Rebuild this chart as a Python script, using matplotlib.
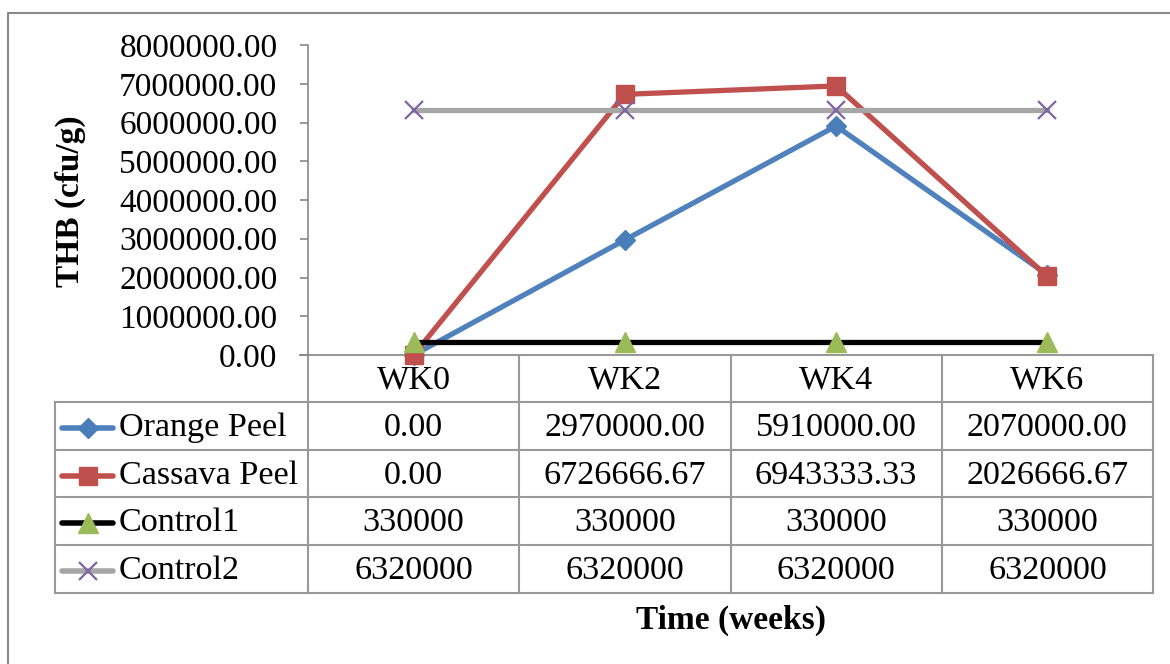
import matplotlib
matplotlib.use("Agg")
import matplotlib.pyplot as plt
from matplotlib.transforms import blended_transform_factory

plt.rcParams["font.family"] = ["Liberation Serif", "DejaVu Serif"]
plt.rcParams["font.size"] = 24.6

weeks = ["WK0", "WK2", "WK4", "WK6"]
orange_peel = [0.00, 2970000.00, 5910000.00, 2070000.00]
cassava_peel = [0.00, 6726666.67, 6943333.33, 2026666.67]
control1 = [330000, 330000, 330000, 330000]
control2 = [6320000, 6320000, 6320000, 6320000]

series = [
    ("Orange Peel", orange_peel, "{:.2f}", dict(color="#4F81BD", marker="D", ms=10, mfc="#4A7EBB", mec="#4A7EBB")),
    ("Cassava Peel", cassava_peel, "{:.2f}", dict(color="#C0504D", marker="s", ms=13, mfc="#C0504D", mec="#C0504D")),
    ("Control1", control1, "{:.0f}", dict(color="black", marker="^", ms=14, mfc="#9BBB59", mec="#9BBB59")),
    ("Control2", control2, "{:.0f}", dict(color="#A6A6A6", marker="x", ms=13, mec="#8064A2", mew=1.6)),
]

W, H = 1170, 664
fig = plt.figure(figsize=(W / 100, H / 100), dpi=100)

# pixel overlay used for the data table, titles and outer border
ov = fig.add_axes([0, 0, 1, 1], zorder=0)
ov.set_xlim(0, W)
ov.set_ylim(H, 0)
ov.axis("off")

x0, x1 = 308, 1153
ytop, ybot = 45, 355
ax = fig.add_axes([x0 / W, 1 - ybot / H, (x1 - x0) / W, (ybot - ytop) / H], zorder=2)
ax.patch.set_alpha(0)

xs = range(len(weeks))
for name, vals, fmt, st in series:
    ax.plot(xs, vals, lw=3.8, label=name, clip_on=False, **st)

ax.set_xlim(-0.5, len(weeks) - 0.5)
ax.set_ylim(0, 8000000)
ax.set_yticks(range(0, 8000001, 1000000))
ax.set_yticklabels([f"{v:.2f}" for v in range(0, 8000001, 1000000)])
ax.tick_params(axis="y", direction="out", length=6, width=1.2, color="#888888", labelsize=24, pad=16)
ax.set_xticks([])
for s in ["top", "right"]:
    ax.spines[s].set_visible(False)
ax.spines["left"].set_color("#888888")
ax.spines["left"].set_linewidth(1.2)
ax.spines["bottom"].set_visible(False)

ov.text(70, 201, "THB (cfu/g)", rotation=90, ha="center", va="center",
        fontsize=24, fontweight="bold")

# data table under the plot
grid = "#999999"
row_edges = [355, 402, 450, 497, 545, 593]
leg_x = 55
tr = blended_transform_factory(ax.transData, ov.transData)
col_edges = [x0 + i * (x1 - x0) / len(weeks) for i in range(len(weeks) + 1)]
for xe in col_edges:
    ov.plot([xe, xe], [row_edges[0], row_edges[-1]], color=grid, lw=1.5)
ov.plot([leg_x, leg_x], [row_edges[1], row_edges[-1]], color=grid, lw=1.5)
ov.plot([x0 - 8, x1], [row_edges[0], row_edges[0]], color=grid, lw=1.5)
for ye in row_edges[1:]:
    ov.plot([leg_x, x1], [ye, ye], color=grid, lw=1.5)

for i, wk in enumerate(weeks):
    ov.text(i, (row_edges[0] + row_edges[1]) / 2 + 2, wk, transform=tr,
            ha="center", va="center")
for r, (name, vals, fmt, st) in enumerate(series):
    yc = (row_edges[r + 1] + row_edges[r + 2]) / 2 + 2
    ov.plot([62, 113], [yc, yc], lw=4, color=st["color"], solid_capstyle="round")
    mk = dict(st)
    mk.pop("color")
    ov.plot([88], [yc], ls="none", **mk)
    ov.text(119, yc, name, ha="left", va="center")
    for i, v in enumerate(vals):
        ov.text(i, yc, fmt.format(v), transform=tr, ha="center", va="center")

ov.text((x0 + x1) / 2, 620, "Time (weeks)", ha="center", va="center",
        fontsize=24, fontweight="bold")

# chart-area border (left and top edges fall inside the canvas)
ov.plot([8, 8, W + 5], [H + 5, 13, 13], color="#888888", lw=1.5, clip_on=False)

fig.savefig("out.png", dpi=100)
